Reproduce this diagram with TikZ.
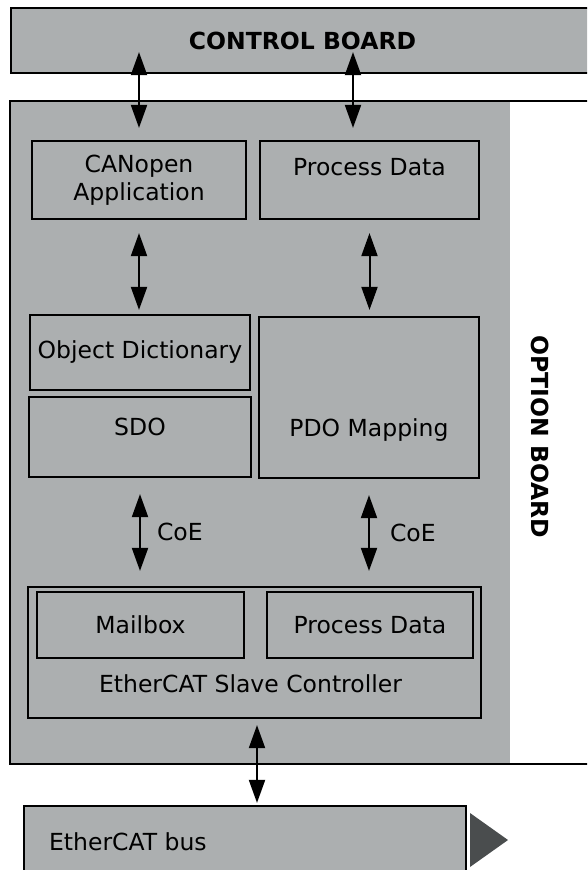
\documentclass[tikz,border=0pt]{standalone}
\usepackage{fontspec}
\setmainfont{DejaVu Sans}
\usepackage{xcolor}
\usepackage{tikz}
\usetikzlibrary{arrows.meta, positioning}

\definecolor{boardgray}{RGB}{172,175,176}
\definecolor{busgray}{RGB}{74,77,78}

\begin{document}
\begin{tikzpicture}[
        x=1pt, y=-1pt,
        >={Triangle[length=23pt, width=16pt]},
        base/.style={align=center, draw, line width=2.2pt, font=\fontsize{23.5}{28}\selectfont},
        block/.style={base, rectangle, fill=boardgray},
        title/.style={font=\fontsize{23.5}{28}\selectfont\bfseries, inner sep=0pt},
        caption/.style={font=\fontsize{23.5}{28}\selectfont, inner sep=0pt},
        arrow/.style={<->, line width=2pt, draw=black}
    ]

        \useasboundingbox (0,0) rectangle (587,870);
        \clip (0,0) rectangle (587,870);

        \node[block, minimum width=583, minimum height=65] (ctrl) at (302.5, 40.5) {};
        \node[title] (ctrllabel) at (ctrl.center) {CONTROL BOARD};

        \node[fill=boardgray, minimum width=500, minimum height=663] (optfill) at (260, 432.5) {};
        \node[base, minimum width=590, minimum height=663] (opt) at (305, 432.5) {};
        \node[title, rotate=-90] (optlabel) at (540, 437) {OPTION BOARD};

        \node[block, minimum width=214, minimum height=78] (canopen) at (139, 180) {CANopen\\Application};
        \node[block, minimum width=219, minimum height=78] (pdtop) at (369.5, 180) {};
        \node[caption] (pdtoplabel) at ([yshift=13pt]pdtop.center) {Process Data};

        \node[block, minimum width=220, minimum height=75] (objdict) at (140, 352.5) {Object Dictionary};
        \node[block, minimum width=222, minimum height=80] (sdo) at (140, 437) {};
        \node[caption] (sdolabel) at ([yshift=10pt]sdo.center) {SDO};
        \node[block, minimum width=220, minimum height=161] (pdo) at (369, 397.5) {};
        \node[caption] (pdolabel) at ([yshift=-33pt]pdo.center) {PDO Mapping};

        \node[block, minimum width=453, minimum height=131] (esc) at (254.5, 652.5) {};
        \node[caption] (esclabel) at ([xshift=-4pt, yshift=-31pt]esc.center) {EtherCAT Slave Controller};
        \node[block, minimum width=207, minimum height=66] (mailbox) at (140.5, 625) {Mailbox};
        \node[block, minimum width=206, minimum height=66] (pdesc) at (370, 625) {Process Data};

        \node[block, minimum width=442, minimum height=94] (bus) at (245, 853) {};
        \node[caption, anchor=west] (buslabel) at ([xshift=26pt, yshift=11pt]bus.west) {EtherCAT bus};
        \fill[busgray] (470, 813) -- (508, 840) -- (470, 867) -- cycle;

        \coordinate (pdlink) at ([xshift=-16.5pt]pdtop.north);
        \coordinate (buslink) at ([xshift=2.5pt]esc.south);

        \draw[arrow, shorten <=-22pt, shorten >=12pt] (ctrl.south -| canopen.north) -- (canopen.north);
        \draw[arrow, shorten <=-22pt, shorten >=12pt] (ctrl.south -| pdlink) -- (pdlink);

        \draw[arrow, shorten <=13pt, shorten >=4pt] (canopen.south) -- (canopen.south |- objdict.north);
        \draw[arrow, shorten <=13pt, shorten >=6pt] (pdtop.south) -- (pdtop.south |- pdo.north);

        \draw[arrow, shorten <=16pt, shorten >=15pt] (sdo.south) -- node[caption, right, xshift=16pt] {CoE} (sdo.south |- esc.north);
        \draw[arrow, shorten <=16pt, shorten >=15pt] (pdo.south) -- node[caption, right, xshift=20pt] {CoE} (pdo.south |- esc.north);

        \draw[arrow, shorten <=6pt, shorten >=2pt] (buslink) -- (buslink |- bus.north);

    \end{tikzpicture}
\end{document}
